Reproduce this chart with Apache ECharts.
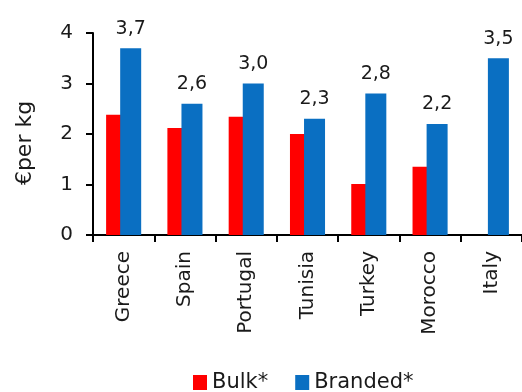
<!DOCTYPE html>
<html>
<head>
<meta charset="utf-8">
<script src="https://cdn.jsdelivr.net/npm/echarts@6/dist/echarts.min.js"></script>
<style>
  html, body { margin: 0; padding: 0; background: #fff; }
  #chart { width: 522px; height: 392px; }
</style>
</head>
<body>
<div id="chart"></div>
<script>
// Olive oil prices, euro per kg
const countries = ['Greece', 'Spain', 'Portugal', 'Tunisia', 'Turkey', 'Morocco', 'Italy'];
const bulk = [2.38, 2.12, 2.34, 2.0, 1.01, 1.35, null];
const branded = [3.7, 2.6, 3.0, 2.3, 2.8, 2.2, 3.5];
const yTicks = [0, 1, 2, 3, 4];

const FONT = 'DejaVu Sans';
const INK = '#1a1a1a';

const chart = echarts.init(document.getElementById('chart'));
chart.setOption({
  animation: false,
  textStyle: { fontFamily: FONT },
  grid: { left: 93, top: 33, bottom: 157, right: -7 },
  legend: {
    top: 367,
    left: 188,
    itemWidth: 14,
    itemHeight: 15,
    itemGap: 27,
    textStyle: { fontSize: 21, color: INK, fontFamily: FONT },
    data: [
      { name: 'Bulk*', icon: 'rect' },
      { name: 'Branded*', icon: 'rect' }
    ]
  },
  xAxis: {
    type: 'category',
    data: countries,
    axisLine: { lineStyle: { color: '#000', width: 2 } },
    axisTick: { show: true, length: 7, lineStyle: { color: '#000', width: 2 } },
    axisLabel: { rotate: 90, fontSize: 20, color: INK, margin: 16, fontFamily: FONT }
  },
  yAxis: {
    type: 'value',
    min: yTicks[0],
    max: yTicks[yTicks.length - 1],
    interval: 1,
    name: '€per kg',
    nameLocation: 'middle',
    nameGap: 57,
    nameTextStyle: { fontSize: 22, color: INK, fontFamily: FONT, padding: [0, 0, 0, -18] },
    axisLine: { show: true, lineStyle: { color: '#000', width: 2 } },
    axisTick: { show: true, length: 7, lineStyle: { color: '#000', width: 2 } },
    axisLabel: { fontSize: 20, color: INK, margin: 20, fontFamily: FONT },
    splitLine: { show: false }
  },
  series: [
    {
      name: 'Bulk*',
      type: 'bar',
      data: bulk,
      barWidth: 21,
      barGap: '-33%',
      itemStyle: { color: '#FF0000' }
    },
    {
      name: 'Branded*',
      type: 'bar',
      data: branded,
      barWidth: 21,
      itemStyle: { color: '#0A6FC2' },
      label: {
        show: true,
        position: 'top',
        distance: 10,
        fontSize: 19,
        color: INK,
        fontFamily: FONT,
        formatter: p => p.value.toFixed(1).replace('.', ',')
      }
    }
  ]
});
</script>
</body>
</html>
